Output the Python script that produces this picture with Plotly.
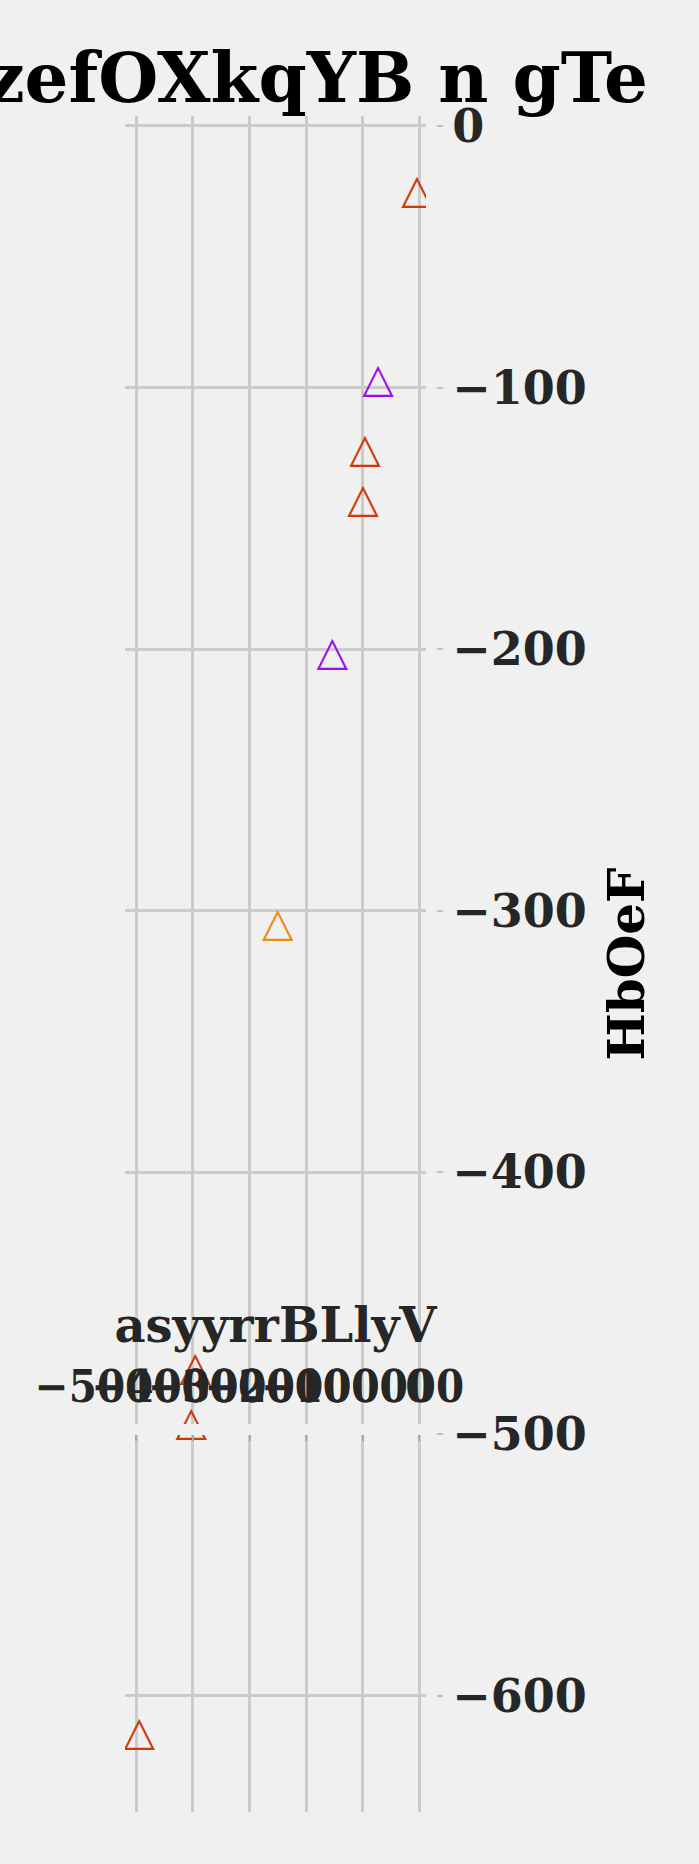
import plotly.graph_objects as go

# ---- data ----
red_x = [-4000, -96000, -99600, -396000, -403000, -495000]
red_y = [-25.6, -124.6, -143.7, -475.5, -496.6, -615.0]
purple_x = [-73000, -154000]
purple_y = [-97.9, -202.0]
orange_x = [-250000]
orange_y = [-305.8]

x_ticks = [-500000, -400000, -300000, -200000, -100000, 0]
x_tick_labels = ["\u2212500000", "\u2212400000", "\u2212300000", "\u2212200000", "\u2212100000", "0"]
y_ticks = [0, -100, -200, -300, -400, -500, -600]
y_tick_labels = ["0", "\u2212100", "\u2212200", "\u2212300", "\u2212400", "\u2212500", "\u2212600"]

title_text = "zefOXkqYB n gTe"
x_title = "asyyrrBLlyV"
y_title = "HbOeF"

RED = "#cc3a0a"
PURPLE = "#9b10e8"
ORANGE = "#eb8c10"
BG = "#f0f0f0"
GRID = "#cbcbcb"
SERIF = "DejaVu Serif"

W, H = 699, 1864
L, R, T, B = 125, 263, 116, 52

fig = go.Figure()
for xs, ys, col, name in [(red_x, red_y, RED, "red"),
                          (purple_x, purple_y, PURPLE, "purple"),
                          (orange_x, orange_y, ORANGE, "orange")]:
    fig.add_trace(go.Scatter(
        x=xs, y=ys, mode="text", name=name,
        text=["\u25B3"] * len(xs), textposition="middle center",
        textfont=dict(family="DejaVu Sans", size=41, color=col),
        cliponaxis=True, hoverinfo="x+y"))

fig.update_layout(
    template="none",
    width=W, height=H,
    margin=dict(l=L, r=R, t=T, b=B, pad=0),
    paper_bgcolor=BG, plot_bgcolor=BG,
    showlegend=False,
    font=dict(family=SERIF, color="#262626"),
    title=dict(text=title_text, font=dict(family=SERIF, size=69, color="black", weight="bold"),
               x=648 / W, xanchor="right", xref="container",
               y=1 - 78 / H, yanchor="middle", yref="container"),
    xaxis=dict(
        domain=[0, 301 / 311], range=[-520000, 11800],
        anchor="free", position=0.2261, side="top",
        tickvals=x_ticks, ticktext=x_tick_labels, tickangle=0,
        ticks="inside", ticklen=6, tickwidth=2, tickcolor="#a8a8a8",
        ticklabelstandoff=4,
        showline=True, linecolor=BG, linewidth=11, layer="above traces",
        showgrid=True, gridcolor=GRID, gridwidth=2.5, zeroline=False,
        tickfont=dict(family="DejaVu Serif Condensed, DejaVu Serif", size=45, weight="bold",
                      color="#262626"),
        title=dict(text=x_title, font=dict(family=SERIF, size=48, weight="bold", color="#262626"),
                   standoff=0),
        automargin=False,
    ),
    yaxis=dict(
        range=[-644.5, 3.8],
        anchor="free", position=1, side="right",
        tickvals=y_ticks, ticktext=y_tick_labels,
        ticks="outside", ticklen=6, tickwidth=2, tickcolor="#c0c0c0",
        showline=False, showgrid=True, gridcolor=GRID, gridwidth=2.5, zeroline=False,
        tickfont=dict(family=SERIF, size=46, weight="bold", color="#262626"),
        title=dict(text=y_title, font=dict(family=SERIF, size=50, weight="bold", color="black"),
                   standoff=23),
        automargin=False,
    ),
)

fig.write_html("out.html",
               config={"displayModeBar": False},
               post_script="document.body.style.margin='0px';document.body.style.background='#f0f0f0';")
